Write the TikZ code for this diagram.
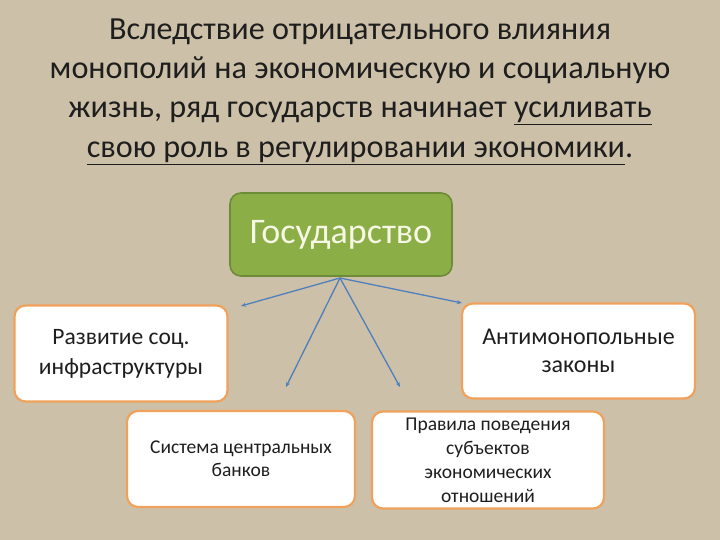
\documentclass[tikz,border=0pt]{standalone}
\usepackage{fontspec}
\setmainfont{Carlito}
\usetikzlibrary{arrows.meta}

\definecolor{canvas}{HTML}{CDC0A8}
\definecolor{titletext}{HTML}{1E1E1E}
\definecolor{statefill}{HTML}{8BAE46}
\definecolor{stateline}{HTML}{6E8B38}
\definecolor{statetext}{HTML}{F6F7E4}
\definecolor{boxline}{HTML}{F0A25C}
\definecolor{linkblue}{HTML}{4F7FBC}

\tikzset{every node/.style={align=center, inner sep=0pt, text=titletext}}

\begin{document}
\begin{tikzpicture}[x=1pt, y=-1pt,
	state/.style={draw=stateline, line width=1.6pt, fill=statefill, rounded corners=11pt, text=statetext},
	topic/.style={draw=boxline, line width=2.2pt, fill=white, rounded corners=11pt},
	link/.style={draw=linkblue, line width=1.3pt, -{Stealth[length=5pt, width=4pt]}}]
	% Background
	\fill[canvas] (0,0) rectangle (720,540);
	\useasboundingbox (0,0) rectangle (720,540);
	
	% Title
	\node[font=\fontsize{32.2}{39.3}\selectfont] (title) at (360,91.5) {
		Вследствие отрицательного влияния\\
		монополий на экономическую и социальную\\
		жизнь, ряд государств начинает \underline{усиливать}\\
		\underline{свою роль в регулировании экономики}.};
	
	% Define boxes
	\node[state, minimum width=222pt, minimum height=83pt, font=\fontsize{36}{40}\selectfont] (S) at (341,234.5)
		{Государство};
	\node[topic, minimum width=213pt, minimum height=96pt, font=\fontsize{23.5}{30}\selectfont] (I) at (121,353.5)
		{Развитие соц.\\ инфраструктуры};
	\node[topic, minimum width=233pt, minimum height=95pt, font=\fontsize{24}{28}\selectfont] (A) at (578.5,351)
		{Антимонопольные\\ законы};
	\node[topic, minimum width=228pt, minimum height=96pt, font=\fontsize{19.5}{23}\selectfont] (B) at (241,459)
		{Система центральных\\ банков};
	\node[topic, minimum width=232pt, minimum height=97pt, font=\fontsize{19.5}{24}\selectfont] (R) at (488,460)
		{Правила поведения\\ субъектов\\ экономических\\ отношений};
	
	% Arrow ends
	\coordinate (hub) at (340,278);
	\coordinate (eI) at (241,306);
	\coordinate (eA) at (462,303);
	\coordinate (eB) at (286,387);
	\coordinate (eR) at (400,387);
	
	% Arrows from the state
	\draw[link] (hub) -- (eI);
	\draw[link] (hub) -- (eA);
	\draw[link] (hub) -- (eB);
	\draw[link] (hub) -- (eR);
\end{tikzpicture}
\end{document}
